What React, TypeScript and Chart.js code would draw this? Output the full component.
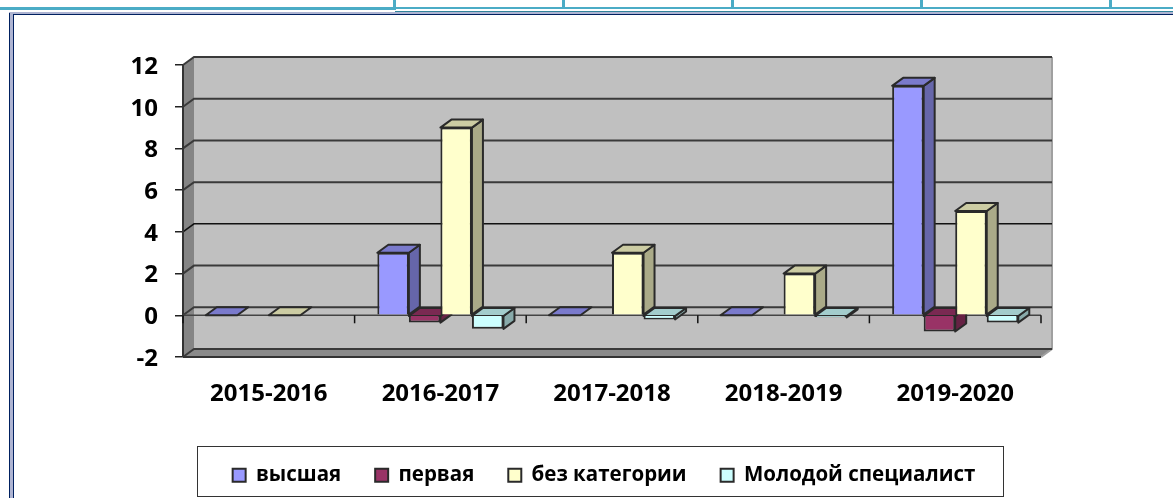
import React, { useEffect, useRef } from "react";
import { Chart, registerables } from "chart.js";

Chart.register(...registerables);

const categories = ["2015-2016", "2016-2017", "2017-2018", "2018-2019", "2019-2020"];
const highest = [0, 3, 0, 0, 11];
const first = [null, -0.35, null, null, -0.78];
const noCategory = [0, 9, 3, 2, 5];
const youngSpecialist = [null, -0.65, -0.2, -0.1, -0.35];

const seriesNames = ["высшая", "первая", "без категории", "Молодой специалист"];
const frontColors = ["#9999FF", "#993366", "#FFFFCC", "#CCFFFF"];
const topColors = ["#7A7ACC", "#7A2952", "#CCCCA3", "#A3CCCC"];
const sideColors = ["#6666AA", "#662244", "#AAAA88", "#88AAAA"];

const FONT = "'Open Sans', sans-serif";
const DX = 11;
const DY = -8;

const drawDepthFaces = (chart: any, i: number) => {
  const c = chart.ctx;
  const meta = chart.getDatasetMeta(i);
  const values = chart.data.datasets[i].data;
  c.save();
  c.lineWidth = 2;
  c.strokeStyle = "#2A2A2A";
  c.lineJoin = "round";
  meta.data.forEach((bar: any, k: number) => {
    if (values[k] === null) return;
    const p = bar.getProps(["x", "y", "base", "width"], true);
    const l = p.x - p.width / 2;
    const r = p.x + p.width / 2;
    const t = Math.min(p.y, p.base);
    const b = Math.max(p.y, p.base);
    if (b > t) {
      c.fillStyle = sideColors[i];
      c.beginPath();
      c.moveTo(r, t);
      c.lineTo(r + DX, t + DY);
      c.lineTo(r + DX, b + DY);
      c.lineTo(r, b);
      c.closePath();
      c.fill();
      c.stroke();
    }
    c.fillStyle = topColors[i];
    c.beginPath();
    c.moveTo(l, t);
    c.lineTo(l + DX, t + DY);
    c.lineTo(r + DX, t + DY);
    c.lineTo(r, t);
    c.closePath();
    c.fill();
    c.stroke();
  });
  c.restore();
};

const scenePlugin = {
  id: "scene3d",
  afterLayout(chart: any) {
    const lg = chart.legend;
    if (lg) {
      lg.left = 101;
      lg.right = 1107;
      lg.width = 1006;
      lg.top = 431;
      lg.bottom = 498;
    }
  },
  beforeDraw(chart: any) {
    const c = chart.ctx;
    c.save();
    c.fillStyle = "#fff";
    c.fillRect(0, 0, chart.width, chart.height);
    // page table rules
    c.fillStyle = "#4BACC6";
    c.fillRect(0, 7, 396, 3);
    c.fillRect(393, 0, 3, 9);
    c.fillRect(396, 7, 777, 2);
    [563, 732, 921, 1110].forEach((x) => c.fillRect(x - 1, 0, 3, 8));
    c.fillStyle = "#31849B";
    c.fillRect(395, 11, 778, 2);
    // page frame
    c.fillStyle = "#AEB4D2";
    c.fillRect(9, 12, 1164, 2);
    c.fillRect(10, 12, 3, 486);
    c.fillStyle = "#002060";
    c.fillRect(13, 14, 1160, 1);
    c.fillRect(9, 13, 1, 485);
    c.fillRect(13, 14, 1, 484);
    c.restore();
  },
  beforeDatasetsDraw(chart: any) {
    const c = chart.ctx;
    const { left, right, top, bottom } = chart.chartArea;
    const y = chart.scales.y;
    const x = chart.scales.x;
    c.save();
    // back wall
    c.fillStyle = "#C0C0C0";
    c.fillRect(left + DX, top + DY, right - left, bottom - top);
    // side wall
    c.fillStyle = "#858585";
    c.beginPath();
    c.moveTo(left, top);
    c.lineTo(left + DX, top + DY);
    c.lineTo(left + DX, bottom + DY);
    c.lineTo(left, bottom);
    c.closePath();
    c.fill();
    // floor
    c.fillStyle = "#8A8A8A";
    c.beginPath();
    c.moveTo(left, bottom);
    c.lineTo(left + DX, bottom + DY);
    c.lineTo(right + DX, bottom + DY);
    c.lineTo(right, bottom);
    c.closePath();
    c.fill();
    // wall outline
    c.strokeStyle = "#A0A0A0";
    c.lineWidth = 2;
    c.beginPath();
    c.moveTo(right + DX, top + DY);
    c.lineTo(right + DX, bottom + DY);
    c.lineTo(right, bottom);
    c.stroke();
    // grid
    y.ticks.forEach((t: any) => {
      const py = y.getPixelForValue(t.value);
      c.strokeStyle = t.value === 4 ? "#111" : "#3A3A3A";
      c.lineWidth = t.value === 4 ? 1.5 : 2;
      c.beginPath();
      c.moveTo(left, py);
      c.lineTo(left + DX, py + DY);
      c.lineTo(right + DX, py + DY);
      c.stroke();
    });
    // front floor line and axis
    c.strokeStyle = "#333";
    c.lineWidth = 2;
    c.beginPath();
    c.moveTo(left, bottom);
    c.lineTo(right, bottom);
    c.stroke();
    c.beginPath();
    c.moveTo(left, top);
    c.lineTo(left, bottom);
    c.stroke();
    // category axis at zero
    const zero = y.getPixelForValue(0);
    c.strokeStyle = "#444";
    c.lineWidth = 1.5;
    c.beginPath();
    c.moveTo(left, zero);
    c.lineTo(right, zero);
    c.stroke();
    const step = (x.right - x.left) / categories.length;
    c.strokeStyle = "#111";
    for (let i = 0; i <= categories.length; i++) {
      const px = x.left + step * i;
      c.beginPath();
      c.moveTo(px, zero);
      c.lineTo(px, zero + 8);
      c.stroke();
    }
    c.restore();
    // bars, left to right, so each front hides its left neighbour's side
    chart.data.datasets.forEach((_: any, i: number) => {
      drawDepthFaces(chart, i);
      chart.getDatasetMeta(i).controller.draw();
    });
  },
  beforeDatasetDraw() {
    return false;
  },
  afterDraw(chart: any) {
    const c = chart.ctx;
    c.save();
    c.strokeStyle = "#333";
    c.lineWidth = 1;
    c.strokeRect(197.5, 446.5, 806, 50);
    c.restore();
  },
};

const seriesValues = [highest, first, noCategory, youngSpecialist];

export default function App() {
  const ref = useRef<HTMLCanvasElement>(null);
  useEffect(() => {
    document.body.style.margin = "0";
    const chart = new Chart(ref.current as HTMLCanvasElement, {
      type: "bar",
      data: {
        labels: categories,
        datasets: seriesValues.map((data, i) => ({
          label: seriesNames[i],
          data,
          backgroundColor: frontColors[i],
          borderColor: "#2A2A2A",
          borderWidth: 2,
        })),
      } as any,
      options: {
        animation: false,
        responsive: false,
        layout: { padding: { top: 65, right: 132 } },
        datasets: { bar: { categoryPercentage: 0.735, barPercentage: 1 } },
        scales: {
          x: {
            grid: { display: false, drawTicks: false },
            border: { display: false },
            ticks: {
              padding: 23,
              maxRotation: 0,
              color: "#000",
              font: { family: FONT, size: 24, weight: "bold" },
            },
            afterFit: (s: any) => {
              s.height = 141 - (s.chart.legend?.height ?? 0);
            },
          },
          y: {
            min: -2,
            max: 12,
            grid: { drawOnChartArea: false, tickLength: 8, color: "#222", lineWidth: 1.5 },
            border: { display: false },
            ticks: {
              stepSize: 2,
              padding: 17,
              labelOffset: 2,
              color: "#000",
              font: { family: FONT, size: 24, weight: "bold" },
            },
            afterFit: (s: any) => {
              s.width = 183;
            },
          },
        },
        plugins: {
          tooltip: { enabled: false },
          title: { display: false },
          legend: {
            display: true,
            position: "bottom",
            labels: {
              boxWidth: 13,
              boxHeight: 13,
              padding: 34,
              color: "#000",
              font: { family: FONT, size: 20.5, weight: "bold" },
            },
          },
        },
      } as any,
      plugins: [scenePlugin],
    });
    return () => chart.destroy();
  }, []);
  return (
    <div style={{ position: "absolute", left: 0, top: 0, width: 1173, height: 498, overflow: "hidden" }}>
      <canvas ref={ref} width={1173} height={498} style={{ display: "block", filter: "blur(0.5px)" }} />
    </div>
  );
}
